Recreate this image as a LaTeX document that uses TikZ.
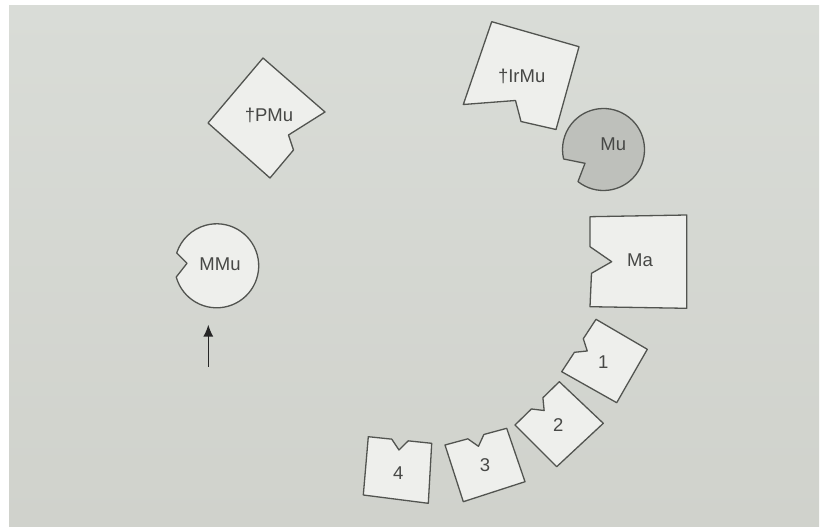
\documentclass[tikz,border=0pt]{standalone}
\usepackage{fontspec}
\setmainfont{Liberation Sans}
\usetikzlibrary{calc,arrows.meta}
\definecolor{bgtop}{HTML}{D9DCD7}
\definecolor{bgbot}{HTML}{D0D2CC}
\definecolor{piecec}{HTML}{EEEFEC}
\definecolor{mufill}{HTML}{BEC0BB}
\definecolor{linec}{HTML}{525450}
\definecolor{textc}{HTML}{474846}
\begin{document}
\begin{tikzpicture}[x=1pt,y=1pt,
  piece/.style={draw=linec, fill=piecec, line width=1.3pt, line join=round},
  mupiece/.style={piece, fill=mufill},
  lbl/.style={font=\fontsize{18.5}{22}\selectfont, text=textc, inner sep=0pt},
  arrowline/.style={draw=black!85, line width=1.6pt, -{Latex[length=12pt,width=10pt]}}]
\useasboundingbox (0,0) rectangle (821,528);
\fill[white] (0,0) rectangle (821,528);
\shade[top color=bgtop,bottom color=bgbot] (9,2) rectangle (819,522);

% +PMu
\coordinate (pT) at (263,470);
\coordinate (pR) at (325,416);
\coordinate (pA) at (288.5,393);
\coordinate (pE) at (293.5,378);
\coordinate (pB) at (270,350);
\coordinate (pL) at (208,405);
\draw[piece] (pT) -- (pR) -- (pA) -- (pE) -- (pB) -- (pL) -- cycle;
\node[lbl] (lPMu) at (269,413) {†PMu};

% +IrMu
\coordinate (iTL) at (491.7,506.3);
\coordinate (iTR) at (579,481.3);
\coordinate (iBR) at (556,398.5);
\coordinate (iN1) at (521,406.5);
\coordinate (iN2) at (515.5,427.5);
\coordinate (iBL) at (463.3,423.5);
\draw[piece] (iTL) -- (iTR) -- (iBR) -- (iN1) -- (iN2) -- (iBL) -- cycle;
\node[lbl] (lIrMu) at (521.7,451.3) {†IrMu};

% Mu
\coordinate (muC) at (603.5,378.5);
\coordinate (muA) at (585,364.7);
\draw[mupiece] ($(muC)+(231.5:41)$) arc[start angle=231.5, end angle=553.4, radius=41] -- (muA) -- cycle;
\node[lbl] (lMu) at (613.3,384) {Mu};

% MMu
\coordinate (mmC) at (216.7,262.2);
\coordinate (mmA) at (187,264.7);
\draw[piece] ($(mmC)+(195.5:42)$) arc[start angle=195.5, end angle=522.2, radius=42] -- (mmA) -- cycle;
\node[lbl] (lMMu) at (220,264) {MMu};

% Ma
\coordinate (aTL) at (590,311.3);
\coordinate (aTR) at (686.7,313);
\coordinate (aBR) at (686.7,219.7);
\coordinate (aBL) at (590,221.3);
\coordinate (aN1) at (591.5,254.7);
\coordinate (aN2) at (611.7,266.3);
\coordinate (aN3) at (590,281.3);
\draw[piece] (aTL) -- (aTR) -- (aBR) -- (aBL) -- (aN1) -- (aN2) -- (aN3) -- cycle;
\node[lbl] (lMa) at (640,268) {Ma};

% 1
\coordinate (aT) at (596,208.7);
\coordinate (aR) at (647.3,178.7);
\coordinate (aB) at (616.7,125.3);
\coordinate (aL) at (561.7,156.3);
\draw[piece] (aT) -- (aR) -- (aB) -- (aL) -- ($(aL)!0.37!(aT)$) -- ($(aL)!0.5!(aT)!10pt!-90:(aT)$) -- ($(aL)!0.63!(aT)$) -- cycle;
\node[lbl] (l1) at (603.3,166.3) {1};

% 2
\coordinate (bT) at (559.3,146.3);
\coordinate (bR) at (603.3,104.7);
\coordinate (bB) at (556.7,61.3);
\coordinate (bL) at (515,103);
\draw[piece] (bT) -- (bR) -- (bB) -- (bL) -- ($(bL)!0.37!(bT)$) -- ($(bL)!0.5!(bT)!10pt!-90:(bT)$) -- ($(bL)!0.63!(bT)$) -- cycle;
\node[lbl] (l2) at (558.3,103) {2};

% 3
\coordinate (cTL) at (445,83);
\coordinate (cTR) at (506.7,99.7);
\coordinate (cBR) at (525,46.3);
\coordinate (cBL) at (463.3,26.3);
\draw[piece] (cTL) -- ($(cTL)!0.37!(cTR)$) -- ($(cTL)!0.5!(cTR)!10pt!-90:(cTR)$) -- ($(cTL)!0.63!(cTR)$) -- (cTR) -- (cBR) -- (cBL) -- cycle;
\node[lbl] (l3) at (485,63) {3};

% 4
\coordinate (dTL) at (368.3,91.3);
\coordinate (dTR) at (431.7,84.7);
\coordinate (dBR) at (428.3,24.7);
\coordinate (dBL) at (363.3,33);
\draw[piece] (dTL) -- ($(dTL)!0.37!(dTR)$) -- ($(dTL)!0.5!(dTR)!10pt!-90:(dTR)$) -- ($(dTL)!0.63!(dTR)$) -- (dTR) -- (dBR) -- (dBL) -- cycle;
\node[lbl] (l4) at (398.3,54.7) {4};

% arrow
\coordinate (arS) at (208.3,161.3);
\coordinate (arE) at (208.3,203.5);
\draw[arrowline] (arS) -- (arE);
\end{tikzpicture}
\end{document}
